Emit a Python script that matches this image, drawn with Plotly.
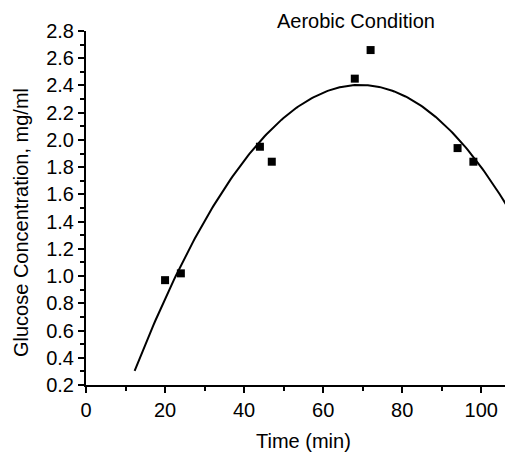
import numpy as np
import plotly.graph_objects as go

time_min = [20, 24, 44, 47, 68, 72, 94, 98]
glucose = [0.97, 1.02, 1.95, 1.84, 2.45, 2.66, 1.94, 1.84]
fit_start, fit_end = 12.3, 107

coef = np.polyfit(time_min, glucose, 2)
xf = np.linspace(fit_start, fit_end, 200)
yf = np.polyval(coef, xf)

fig = go.Figure()
fig.add_trace(go.Scatter(x=xf, y=yf, mode="lines", line=dict(color="black", width=2),
                         showlegend=False, hoverinfo="skip"))
fig.add_trace(go.Scatter(x=time_min, y=glucose, mode="markers",
                         marker=dict(symbol="square", size=8, color="black"),
                         showlegend=False))

font = "Liberation Sans, Arial, sans-serif"
L, T, B = 86, 31, 68
pw, ph = 505 - L, 453 - T - B


def px(x):
    return (x - L) / pw


def py(y):
    return (453 - B - y) / ph


fig.update_layout(
    width=505, height=453,
    margin=dict(l=L, r=0, t=T, b=B),
    paper_bgcolor="white", plot_bgcolor="white",
    font=dict(family=font, size=20, color="black"),
    xaxis=dict(range=[0, 106], tickmode="array", tickvals=[0, 20, 40, 60, 80, 100],
               showline=True, linecolor="black", linewidth=2, ticks="outside",
               ticklen=6, tickwidth=2, tickcolor="black", showgrid=False, zeroline=False,
               minor=dict(ticks="outside", dtick=10, ticklen=4, tickwidth=2, tickcolor="black")),
    yaxis=dict(range=[0.2, 2.8], tickmode="array",
               tickvals=[0.2, 0.4, 0.6, 0.8, 1.0, 1.2, 1.4, 1.6, 1.8, 2.0, 2.2, 2.4, 2.6, 2.8],
               ticktext=["0.2", "0.4", "0.6", "0.8", "1.0", "1.2", "1.4", "1.6", "1.8", "2.0",
                         "2.2", "2.4", "2.6", "2.8"],
               showline=True, linecolor="black", linewidth=2, ticks="outside",
               ticklen=6, tickwidth=2, tickcolor="black", showgrid=False, zeroline=False,
               minor=dict(ticks="outside", dtick=0.1, ticklen=4, tickwidth=2, tickcolor="black")),
    annotations=[
        dict(text="Aerobic Condition", x=px(356), y=py(21), xref="paper", yref="paper",
             showarrow=False, font=dict(size=20), xanchor="center", yanchor="middle"),
        dict(text="Time (min)", x=px(303), y=py(441), xref="paper", yref="paper",
             showarrow=False, font=dict(size=20), xanchor="center", yanchor="middle"),
        dict(text="Glucose Concentration, mg/ml", x=px(21), y=py(223), xref="paper",
             yref="paper", showarrow=False, font=dict(size=20), textangle=-90,
             xanchor="center", yanchor="middle"),
    ],
)
fig.write_html("out.html")
